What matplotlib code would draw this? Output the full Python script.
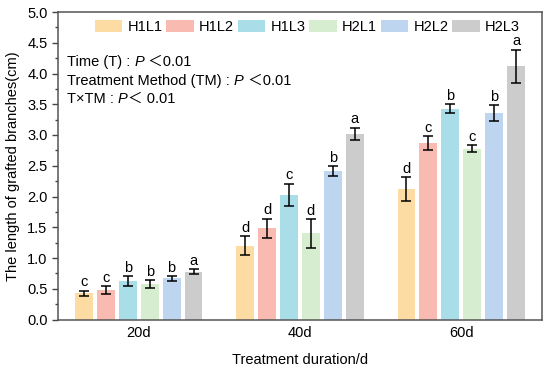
import matplotlib
matplotlib.use("Agg")
import matplotlib.pyplot as plt
import numpy as np
from matplotlib.ticker import MultipleLocator, FormatStrFormatter
from matplotlib.patches import Patch

plt.rcParams['font.family'] = ['Liberation Sans', 'Noto Sans CJK SC', 'DejaVu Sans']
FS = 10.5

groups = ["20d", "40d", "60d"]
series = ["H1L1", "H1L2", "H1L3", "H2L1", "H2L2", "H2L3"]
colors = ["#FDDCA4", "#F9BAB2", "#A9DDE8", "#D6EDD0", "#BDD5EE", "#CCCCCC"]

H1L1 = [0.43, 1.20, 2.12]
H1L2 = [0.48, 1.48, 2.87]
H1L3 = [0.62, 2.03, 3.43]
H2L1 = [0.58, 1.40, 2.78]
H2L2 = [0.67, 2.42, 3.35]
H2L3 = [0.78, 3.02, 4.12]
values = [H1L1, H1L2, H1L3, H2L1, H2L2, H2L3]

err_H1L1 = [0.04, 0.15, 0.20]
err_H1L2 = [0.06, 0.16, 0.11]
err_H1L3 = [0.08, 0.18, 0.07]
err_H2L1 = [0.06, 0.23, 0.06]
err_H2L2 = [0.04, 0.08, 0.13]
err_H2L3 = [0.04, 0.10, 0.27]
errors = [err_H1L1, err_H1L2, err_H1L3, err_H2L1, err_H2L2, err_H2L3]

letters_H1L1 = ["c", "d", "d"]
letters_H1L2 = ["c", "d", "c"]
letters_H1L3 = ["b", "c", "b"]
letters_H2L1 = ["b", "d", "c"]
letters_H2L2 = ["b", "b", "b"]
letters_H2L3 = ["a", "a", "a"]
letters = [letters_H1L1, letters_H1L2, letters_H1L3, letters_H2L1, letters_H2L2, letters_H2L3]

fig = plt.figure(figsize=(5.5, 3.72), dpi=100)
ax = fig.add_axes([58/550, 1 - 319.5/372, (542-58)/550, (319.5-12)/372])

x = np.arange(1, len(groups) + 1)
pitch = 0.136
width = 0.111
for i, (name, vals, errs, lets, c) in enumerate(zip(series, values, errors, letters, colors)):
    pos = x + (i - 2.5) * pitch
    ax.bar(pos, vals, width=width, color=c, label=name, zorder=2)
    ax.errorbar(pos, vals, yerr=errs, fmt='none', ecolor='black', elinewidth=1.1,
                capsize=3.5, capthick=1.1, zorder=3)
    for p, v, e, l in zip(pos, vals, errs, lets):
        ax.text(p, v + e + 0.02, l, ha='center', va='bottom', fontsize=FS, zorder=4)

ax.set_xlim(0.5, 3.5)
ax.set_ylim(0, 5.0)
ax.set_xticks(x)
ax.set_xticklabels(groups, fontsize=FS)
ax.tick_params(axis='x', length=0, pad=5)
ax.yaxis.set_major_locator(MultipleLocator(0.5))
ax.yaxis.set_minor_locator(MultipleLocator(0.25))
ax.yaxis.set_major_formatter(FormatStrFormatter('%.1f'))
ax.tick_params(axis='y', which='major', direction='out', length=4, width=1, labelsize=FS, color='#444444')
ax.tick_params(axis='y', which='minor', direction='out', length=2.5, width=1, color='#444444')
for s in ax.spines.values():
    s.set_color('#555555')
    s.set_linewidth(1.1)

ax.set_ylabel("The length of grafted branches(cm)", fontsize=FS, labelpad=5)
ax.set_xlabel("Treatment duration/d", fontsize=FS, labelpad=9)

handles = [Patch(facecolor=c, edgecolor='none') for c in colors]
ax.legend(handles, series, ncol=6, loc='upper center', bbox_to_anchor=(0.515, 1.0),
          frameon=False, fontsize=FS, handlelength=1.9, handleheight=0.85,
          handletextpad=0.35, columnspacing=0.25, borderaxespad=0.15)

# statistics text, piecewise for italic P and wide less-than
fig.canvas.draw()
renderer = fig.canvas.get_renderer()
lines = [
    [("Time (T) : ", 'normal'), ("P", 'italic'), (" \uff1c0.01", 'normal')],
    [("Treatment Method (TM) : ", 'normal'), ("P", 'italic'), (" \uff1c0.01", 'normal')],
    [("T\u00d7TM : ", 'normal'), ("P", 'italic'), ("\uff1c 0.01", 'normal')],
]
ys = [62, 81, 99]
for line, ypix in zip(lines, ys):
    xpix = 67
    for txt, style in line:
        t = fig.text(xpix / 550, 1 - ypix / 372, txt, fontsize=FS, style=style,
                     ha='left', va='center')
        bb = t.get_window_extent(renderer)
        xpix += bb.width

fig.savefig("out.png", dpi=100)
